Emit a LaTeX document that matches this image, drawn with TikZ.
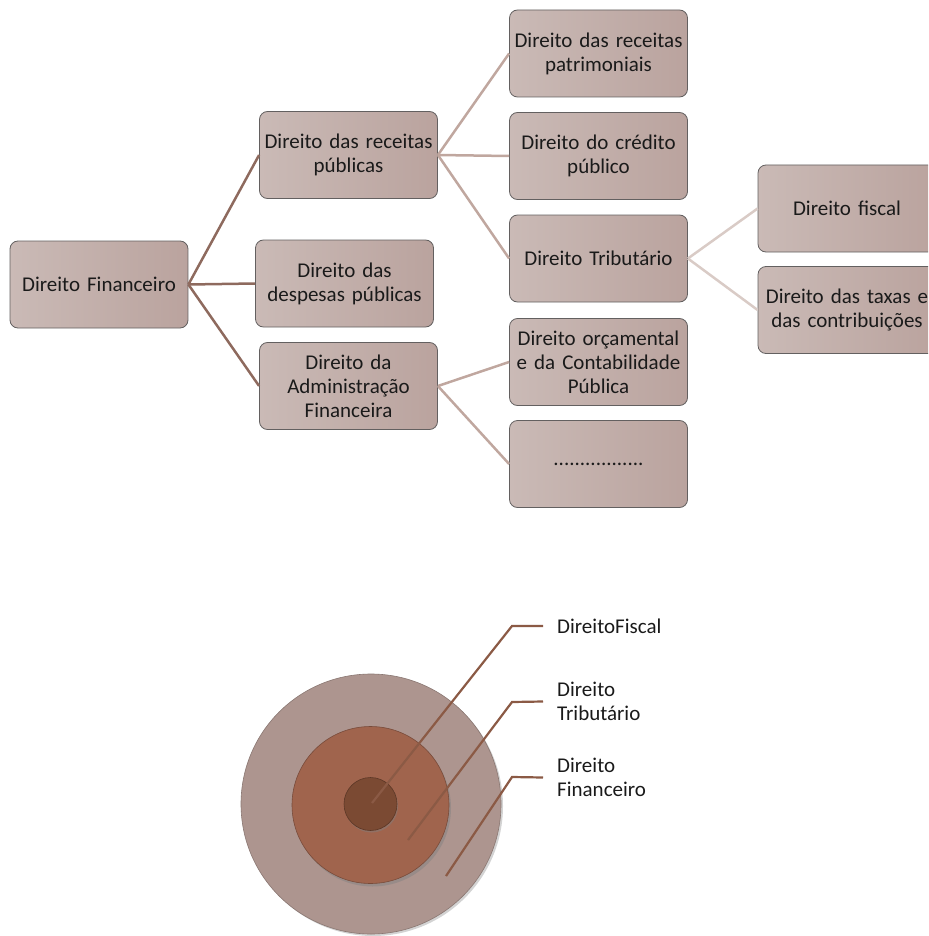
\documentclass[tikz,border=0pt]{standalone}
\usepackage{fontspec}
\setmainfont{Carlito}
\usetikzlibrary{shadows}
\definecolor{boxL}{HTML}{CABAB6}
\definecolor{boxR}{HTML}{BAA39E}
\definecolor{boxB}{HTML}{636060}
\definecolor{lineA}{HTML}{8E6A5E}
\definecolor{lineB}{HTML}{C0A79F}
\definecolor{lineC}{HTML}{D9CBC6}
\definecolor{ringO}{HTML}{AD958F}
\definecolor{ringM}{HTML}{A0644D}
\definecolor{ringI}{HTML}{7B4A33}
\definecolor{leader}{HTML}{8B5A45}
\definecolor{txt}{HTML}{1A1A1A}
\tikzset{
  boxnode/.style={draw=boxB, line width=0.8pt, rounded corners=8pt,
    minimum width=178pt, minimum height=87pt, text width=172pt, align=center,
    left color=boxL, right color=boxR, inner sep=2pt,
    font=\fontsize{21}{24}\selectfont, text=txt},
  linkA/.style={draw=lineA, line width=2.5pt},
  linkB/.style={draw=lineB, line width=2.5pt},
  linkC/.style={draw=lineC, line width=2.5pt},
  leadline/.style={draw=leader, line width=2.2pt},
  ringlabel/.style={anchor=west, align=left, inner xsep=14pt, inner ysep=0pt,
    font=\fontsize{21}{24}\selectfont, text=txt},
}
\begin{document}
\begin{tikzpicture}[x=1pt,y=-1pt]
\useasboundingbox (0,0) rectangle (928,936);
\begin{scope}
\clip (0,0) rectangle (928,936);
% tree
\node[boxnode] (fin) at (99,284.5) {Direito Financeiro};
\node[boxnode] (rec) at (348.5,155) {Direito das receitas\\públicas};
\node[boxnode] (desp) at (344.5,283.5) {Direito das\\despesas públicas};
\node[boxnode] (adm) at (348.5,386) {Direito da\\Administração\\Financeira};
\node[boxnode] (pat) at (598.5,53.5) {Direito das receitas\\patrimoniais};
\node[boxnode] (cred) at (598.5,156) {Direito do crédito\\público};
\node[boxnode] (trib) at (598.5,258.5) {Direito Tributário};
\node[boxnode] (orc) at (598.5,362) {Direito orçamental\\e da Contabilidade\\Pública};
\node[boxnode] (dots) at (598.5,464) {.................};
\node[boxnode] (fisc) at (847,208.5) {Direito fiscal};
\node[boxnode] (tax) at (847,310) {Direito das taxas e\\das contribuições};
\draw[linkA] (fin.east) -- (rec.west);
\draw[linkA] (fin.east) -- (desp.west);
\draw[linkA] (fin.east) -- (adm.west);
\draw[linkB] (rec.east) -- (pat.west);
\draw[linkB] (rec.east) -- (cred.west);
\draw[linkB] (rec.east) -- (trib.west);
\draw[linkB] (adm.east) -- (orc.west);
\draw[linkB] (adm.east) -- (dots.west);
\draw[linkC] (trib.east) -- (fisc.west);
\draw[linkC] (trib.east) -- (tax.west);
% rings
\fill[ringO, draw=ringO!80!black, line width=0.6pt,
  drop shadow={shadow xshift=2pt, shadow yshift=-2pt, opacity=0.35}] (371,804) circle (130);
\fill[ringM, draw=ringM!75!black, line width=0.6pt,
  drop shadow={shadow xshift=2pt, shadow yshift=-3pt, opacity=0.45}] (370.5,805) circle (78.5);
\fill[ringI, draw=ringI!75!black, line width=0.6pt,
  drop shadow={shadow xshift=1pt, shadow yshift=-2pt, opacity=0.45}] (370.5,804) circle (26.5);
\coordinate (p1) at (372,803);
\coordinate (p2) at (408,840);
\coordinate (p3) at (446,876);
\coordinate (k1) at (512,626);
\coordinate (k2) at (512,702);
\coordinate (k3) at (512,777);
\node[ringlabel] (l1) at (543,626) {DireitoFiscal};
\node[ringlabel] (l2) at (543,701.5) {Direito\\Tributário};
\node[ringlabel] (l3) at (543,777.5) {Direito\\Financeiro};
\draw[leadline] (p1) -- (k1) -- (l1.west);
\draw[leadline] (p2) -- (k2) -- (l2.west);
\draw[leadline] (p3) -- (k3) -- (l3.west);
\end{scope}
\end{tikzpicture}
\end{document}
